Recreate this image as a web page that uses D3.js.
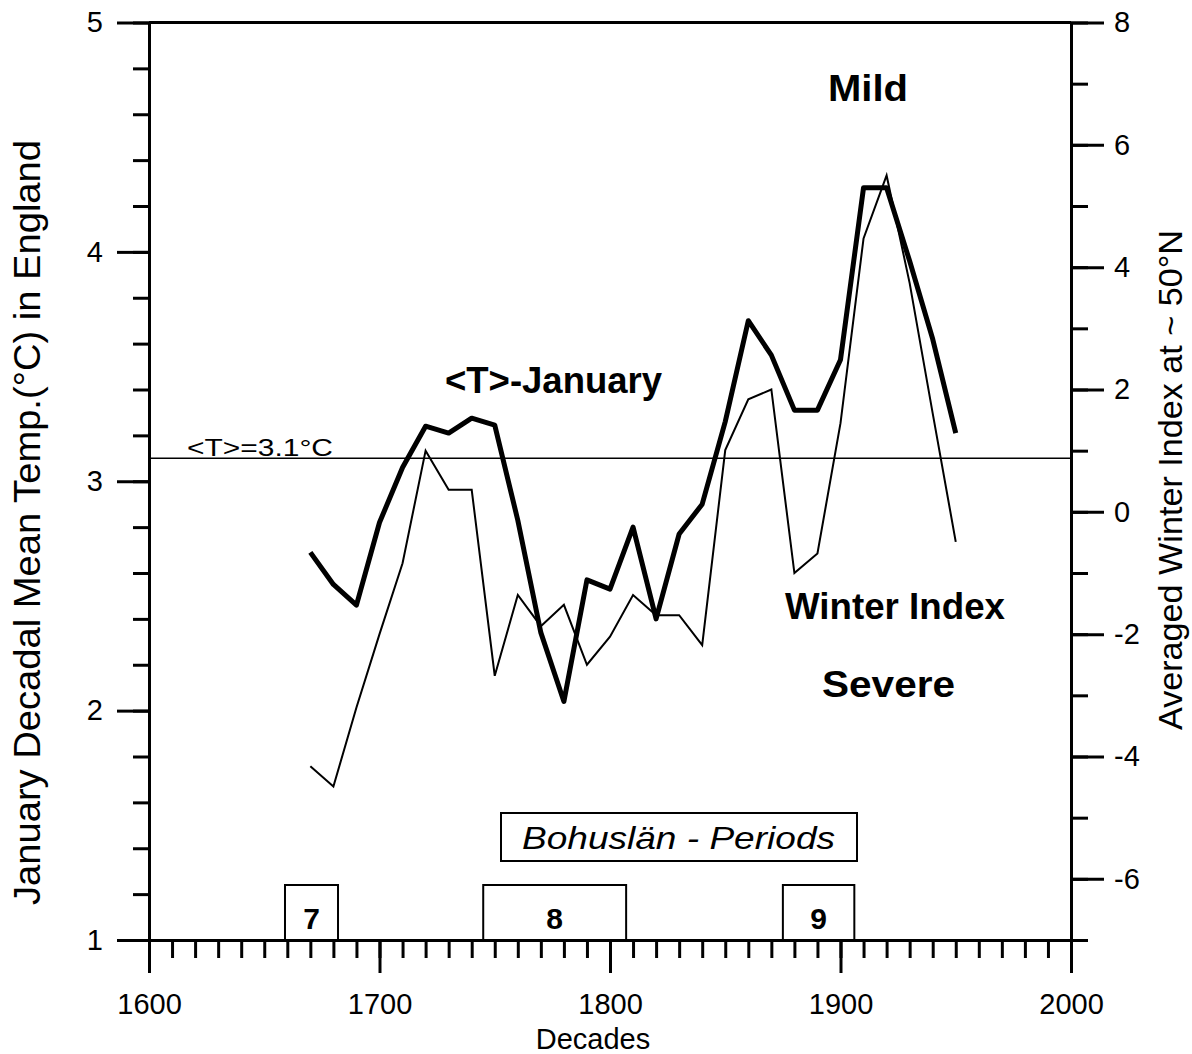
<!DOCTYPE html>
<html><head><meta charset="utf-8">
<script src="https://cdn.jsdelivr.net/npm/d3@7"></script>
<style>
html,body{margin:0;padding:0;background:#fff;}
svg{display:block;font-family:"Liberation Sans",Arial,sans-serif;}
</style></head>
<body>
<svg id="c" width="1192" height="1054"></svg>
<script>
// ---- data ----
const decades = [1670,1680,1690,1700,1710,1720,1730,1740,1750,1760,1770,1780,1790,1800,1810,1820,1830,1840,1850,1860,1870,1880,1890,1900,1910,1920,1930,1940,1950];
const janTemp = [2.69,2.55,2.46,2.82,3.06,3.24,3.21,3.275,3.245,2.83,2.34,2.04,2.57,2.53,2.80,2.40,2.77,2.90,3.26,3.70,3.55,3.31,3.31,3.53,4.28,4.28,3.96,3.62,3.21];
const winterIndex = [-4.16,-4.49,-3.2,-2.0,-0.84,1.0,0.36,0.36,-2.68,-1.36,-1.87,-1.52,-2.50,-2.04,-1.36,-1.69,-1.69,-2.18,1.01,1.84,2.00,-1.00,-0.68,1.45,4.47,5.50,3.74,1.61,-0.49];
const meanTemp = 3.1;
const periodLabels = ["7","8","9"];
const periodStart = [1659,1745,1875];
const periodEnd = [1682,1807,1906];
const xTicks = [1600,1700,1800,1900,2000];
const leftTicks = [1,2,3,4,5];
const rightTicks = [-6,-4,-2,0,2,4,6,8];

// ---- layout ----
const svg = d3.select("#c");
const L = 149, R = 1071, T = 22.5, B = 940;
const x = d3.scaleLinear().domain([1600,2000]).range([L,R]);
const yL = d3.scaleLinear().domain([1,5]).range([B,T]);
const yR = d3.scaleLinear().domain([-7,8]).range([B,T]);

const axisStyle = g => {
  g.attr("font-size",29).attr("font-family","Liberation Sans, Arial, sans-serif");
  g.selectAll(".domain").attr("stroke","#000").attr("stroke-width",3);
  g.selectAll(".tick line").attr("stroke","#000").attr("stroke-width",3);
  g.selectAll(".tick text").attr("fill","#000").style("font-size","29px");
};

// minor ticks
svg.append("g").attr("transform",`translate(${L},0)`)
  .call(d3.axisLeft(yL).tickValues(d3.range(1,5.01,0.2)).tickSize(16).tickFormat("").tickSizeOuter(0))
  .call(axisStyle);
svg.append("g").attr("transform",`translate(${R},0)`)
  .call(d3.axisRight(yR).tickValues(d3.range(-7,8.01,1)).tickSize(17).tickFormat("").tickSizeOuter(0))
  .call(axisStyle);
svg.append("g").attr("transform",`translate(0,${B})`)
  .call(d3.axisBottom(x).tickValues(d3.range(1600,2001,10)).tickSize(18).tickFormat("").tickSizeOuter(0))
  .call(axisStyle);

// major ticks
svg.append("g").attr("transform",`translate(${L},0)`)
  .call(d3.axisLeft(yL).tickValues(leftTicks).tickSize(32).tickPadding(14).tickFormat(d3.format("d")).tickSizeOuter(0))
  .call(axisStyle);
svg.append("g").attr("transform",`translate(${R},0)`)
  .call(d3.axisRight(yR).tickValues(rightTicks).tickSize(33).tickPadding(10).tickFormat(d=>String(d)).tickSizeOuter(0))
  .call(axisStyle);
svg.append("g").attr("transform",`translate(0,${B})`)
  .call(d3.axisBottom(x).tickValues(xTicks).tickSize(33).tickPadding(20).tickFormat(d3.format("d")).tickSizeOuter(0))
  .call(axisStyle);

// top frame
svg.append("line").attr("x1",L).attr("x2",R).attr("y1",T).attr("y2",T)
  .attr("stroke","#000").attr("stroke-width",3);

// mean line
svg.append("line").attr("x1",L).attr("x2",R).attr("y1",yL(meanTemp)).attr("y2",yL(meanTemp))
  .attr("stroke","#000").attr("stroke-width",1.6);
svg.append("text").attr("x",187).attr("y",yL(meanTemp)-2).attr("font-size",23)
  .attr("textLength",146).attr("lengthAdjust","spacingAndGlyphs")
  .text("<T>=3.1°C");

// series
const lineL = d3.line().x((d,i)=>x(decades[i])).y(d=>yL(d));
const lineR = d3.line().x((d,i)=>x(decades[i])).y(d=>yR(d));
svg.append("path").datum(winterIndex).attr("d",lineR).attr("fill","none")
  .attr("stroke","#000").attr("stroke-width",2).attr("stroke-linejoin","miter");
svg.append("path").datum(janTemp).attr("d",lineL).attr("fill","none")
  .attr("stroke","#000").attr("stroke-width",5).attr("stroke-linejoin","round");

// periods
const boxH = 55;
periodLabels.forEach((lab,i)=>{
  const x0 = x(periodStart[i]), x1 = x(periodEnd[i]);
  svg.append("rect").attr("x",x0).attr("y",B-boxH).attr("width",x1-x0).attr("height",boxH)
    .attr("fill","#fff").attr("stroke","#000").attr("stroke-width",2);
  svg.append("text").attr("x",(x0+x1)/2).attr("y",B-11).attr("text-anchor","middle")
    .attr("font-size",30).attr("font-weight","bold").text(lab);
});
svg.append("rect").attr("x",501).attr("y",813).attr("width",356).attr("height",48)
  .attr("fill","#fff").attr("stroke","#000").attr("stroke-width",2);
svg.append("text").attr("x",522).attr("y",849)
  .attr("font-size",32).attr("font-style","italic")
  .attr("textLength",313).attr("lengthAdjust","spacingAndGlyphs").text("Bohuslän - Periods");

// annotations [text, left x, baseline y, width]
const ann = [["Mild",828,101,80],["<T>-January",445,393,217],["Winter Index",785,619,220],["Severe",822,697,133]];
ann.forEach(a=>svg.append("text").attr("x",a[1]).attr("y",a[2])
  .attr("font-size",36).attr("font-weight","bold")
  .attr("textLength",a[3]).attr("lengthAdjust","spacingAndGlyphs").text(a[0]));

// axis titles
svg.append("text").attr("x",593).attr("y",1049).attr("text-anchor","middle").attr("font-size",29).text("Decades");
svg.append("text").attr("transform","translate(40,905) rotate(-90)")
  .attr("font-size",36).attr("textLength",765).attr("lengthAdjust","spacingAndGlyphs")
  .text("January Decadal Mean Temp.(°C) in England");
svg.append("text").attr("transform","translate(1182,730) rotate(-90)")
  .attr("font-size",34).attr("textLength",500).attr("lengthAdjust","spacingAndGlyphs")
  .text("Averaged Winter Index at ~ 50°N");
</script>
</body></html>
